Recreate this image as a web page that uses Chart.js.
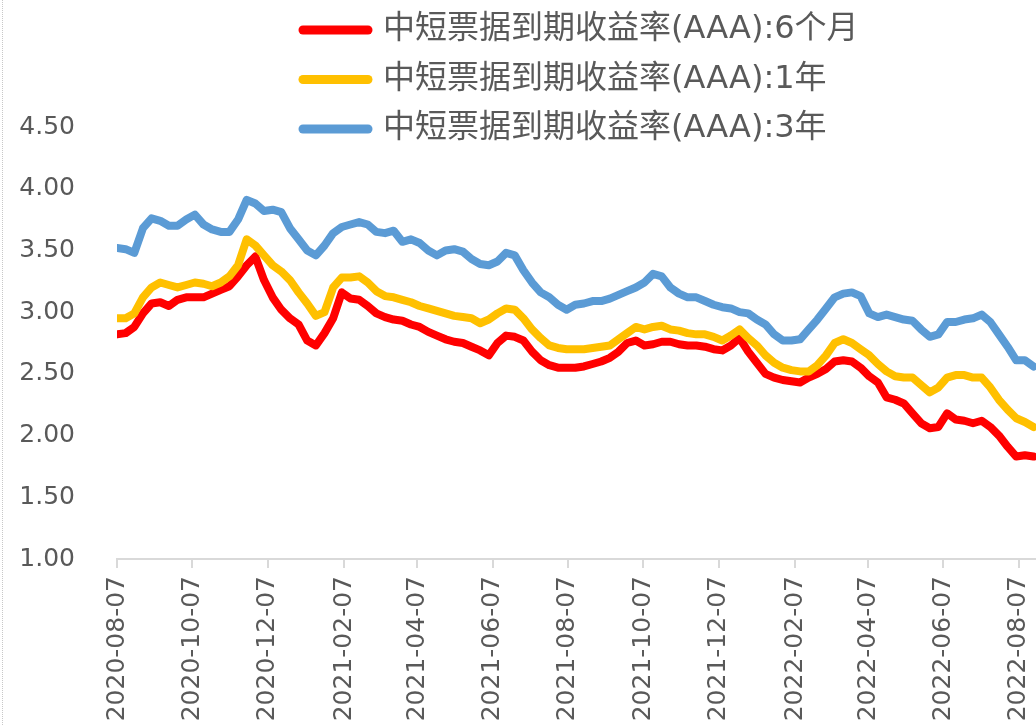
<!DOCTYPE html>
<html>
<head>
<meta charset="utf-8">
<script src="https://cdn.jsdelivr.net/npm/chart.js@4.4.1/dist/chart.umd.min.js"></script>
<style>
  html, body { margin: 0; padding: 0; background: #fff; }
  #wrap { position: relative; width: 1036px; height: 725px; }
  #edge { position: absolute; left: 2px; top: 0; height: 725px; border-left: 1px dotted #c8c8c8; }
</style>
</head>
<body>
<div id="wrap">
  <canvas id="line"></canvas>
  <div id="edge"></div>
</div>
<script>
const START = '2020-08-07';
const END = '2022-08-21';

// weekly observations
const dates = [
  '2020-08-07','2020-08-14','2020-08-21','2020-08-28','2020-09-04','2020-09-11','2020-09-18','2020-09-25',
  '2020-10-02','2020-10-09','2020-10-16','2020-10-23','2020-10-30','2020-11-06','2020-11-13','2020-11-20','2020-11-27',
  '2020-12-04','2020-12-11','2020-12-18','2020-12-25',
  '2021-01-01','2021-01-08','2021-01-15','2021-01-22','2021-01-29','2021-02-05','2021-02-12','2021-02-19','2021-02-26',
  '2021-03-05','2021-03-12','2021-03-19','2021-03-26','2021-04-02','2021-04-09','2021-04-16','2021-04-23','2021-04-30',
  '2021-05-07','2021-05-14','2021-05-21','2021-05-28','2021-06-04','2021-06-11','2021-06-18','2021-06-25',
  '2021-07-02','2021-07-09','2021-07-16','2021-07-23','2021-07-30','2021-08-06','2021-08-13','2021-08-20','2021-08-27',
  '2021-09-03','2021-09-10','2021-09-17','2021-09-24','2021-10-01','2021-10-08','2021-10-15','2021-10-22','2021-10-29',
  '2021-11-05','2021-11-12','2021-11-19','2021-11-26','2021-12-03','2021-12-10','2021-12-17','2021-12-24','2021-12-31',
  '2022-01-07','2022-01-14','2022-01-21','2022-01-28','2022-02-04','2022-02-11','2022-02-18','2022-02-25',
  '2022-03-04','2022-03-11','2022-03-18','2022-03-25','2022-04-01','2022-04-08','2022-04-15','2022-04-22','2022-04-29',
  '2022-05-06','2022-05-13','2022-05-20','2022-05-27','2022-06-03','2022-06-10','2022-06-17','2022-06-24',
  '2022-07-01','2022-07-08','2022-07-15','2022-07-22','2022-07-29','2022-08-05','2022-08-12','2022-08-19'
];

const yield6m = [
  2.82, 2.83, 2.88, 2.99, 3.07, 3.08, 3.05, 3.10, 3.12, 3.12,
  3.12, 3.15, 3.18, 3.21, 3.29, 3.38, 3.45, 3.26, 3.12, 3.02,
  2.95, 2.90, 2.77, 2.73, 2.83, 2.95, 3.16, 3.11, 3.10, 3.05,
  2.99, 2.96, 2.94, 2.93, 2.90, 2.88, 2.84, 2.81, 2.78, 2.76,
  2.75, 2.72, 2.69, 2.65, 2.75, 2.81, 2.80, 2.77, 2.68, 2.61,
  2.57, 2.55, 2.55, 2.55, 2.56, 2.58, 2.60, 2.63, 2.68, 2.75,
  2.77, 2.73, 2.74, 2.76, 2.76, 2.74, 2.73, 2.73, 2.72, 2.70,
  2.69, 2.73, 2.79, 2.68, 2.59, 2.50, 2.47, 2.45, 2.44, 2.43,
  2.47, 2.50, 2.54, 2.60, 2.61, 2.60, 2.55, 2.48, 2.43, 2.31,
  2.29, 2.26, 2.18, 2.10, 2.06, 2.07, 2.18, 2.13, 2.12, 2.10,
  2.12, 2.07, 2.00, 1.91, 1.83, 1.84, 1.83
];

const yield1y = [
  2.95, 2.95, 2.99, 3.12, 3.20, 3.24, 3.22, 3.20, 3.22, 3.24,
  3.23, 3.21, 3.24, 3.29, 3.38, 3.59, 3.54, 3.46, 3.38, 3.33,
  3.26, 3.16, 3.07, 2.97, 3.00, 3.20, 3.28, 3.28, 3.29, 3.24,
  3.17, 3.13, 3.12, 3.10, 3.08, 3.05, 3.03, 3.01, 2.99, 2.97,
  2.96, 2.95, 2.91, 2.94, 2.99, 3.03, 3.02, 2.95, 2.86, 2.79,
  2.73, 2.71, 2.70, 2.70, 2.70, 2.71, 2.72, 2.73, 2.78, 2.83,
  2.88, 2.86, 2.88, 2.89, 2.86, 2.85, 2.83, 2.82, 2.82, 2.80,
  2.77, 2.81, 2.86, 2.79, 2.73, 2.65, 2.59, 2.55, 2.53, 2.52,
  2.52, 2.57, 2.65, 2.75, 2.78, 2.75, 2.70, 2.65, 2.58, 2.52,
  2.48, 2.47, 2.47, 2.41, 2.35, 2.39, 2.47, 2.49, 2.49, 2.47,
  2.47, 2.39, 2.29, 2.21, 2.14, 2.11, 2.07
];

const yield3y = [
  3.52, 3.51, 3.48, 3.68, 3.76, 3.74, 3.70, 3.70, 3.75, 3.79,
  3.71, 3.67, 3.65, 3.65, 3.75, 3.91, 3.88, 3.82, 3.83, 3.81,
  3.68, 3.59, 3.50, 3.46, 3.54, 3.64, 3.69, 3.71, 3.73, 3.71,
  3.65, 3.64, 3.66, 3.57, 3.59, 3.56, 3.50, 3.46, 3.50, 3.51,
  3.49, 3.43, 3.39, 3.38, 3.41, 3.48, 3.46, 3.34, 3.24, 3.16,
  3.12, 3.06, 3.02, 3.06, 3.07, 3.09, 3.09, 3.11, 3.14, 3.17,
  3.20, 3.24, 3.31, 3.29, 3.20, 3.15, 3.12, 3.12, 3.09, 3.06,
  3.04, 3.03, 3.00, 2.99, 2.94, 2.90, 2.82, 2.77, 2.77, 2.78,
  2.86, 2.94, 3.03, 3.12, 3.15, 3.16, 3.13, 2.99, 2.96, 2.98,
  2.96, 2.94, 2.93, 2.86, 2.80, 2.82, 2.92, 2.92, 2.94, 2.95,
  2.98, 2.92, 2.82, 2.72, 2.61, 2.61, 2.56
];

const tickLabels = ['2020-08-07','2020-10-07','2020-12-07','2021-02-07','2021-04-07','2021-06-07',
  '2021-08-07','2021-10-07','2021-12-07','2022-02-07','2022-04-07','2022-06-07','2022-08-07'];

const seriesNames = ['中短票据到期收益率(AAA):6个月', '中短票据到期收益率(AAA):1年', '中短票据到期收益率(AAA):3年'];

const dayOf = d => (Date.parse(d) - Date.parse(START)) / 86400000;
const points = vals => dates.map((d, i) => ({ x: dayOf(d), y: vals[i] }));

const FONT = '"DejaVu Sans", "Noto Sans CJK SC", sans-serif';

// legend stacked one item per row, like the Excel original
const stackedLegend = {
  id: 'stackedLegend',
  afterDraw(chart) {
    const c = chart.ctx;
    c.save();
    chart.data.datasets.forEach((ds, i) => {
      const y = 30 + i * 49.5;
      c.strokeStyle = ds.borderColor;
      c.lineWidth = 9;
      c.lineCap = 'round';
      c.beginPath();
      c.moveTo(303, y);
      c.lineTo(368, y);
      c.stroke();
      c.fillStyle = '#595959';
      c.font = '32px ' + FONT;
      c.textBaseline = 'middle';
      c.fillText(ds.label, 383, y);
    });
    c.restore();
  }
};

const ctx = document.getElementById('line');

const line = new Chart(ctx, {
  type: 'line',
  data: {
    datasets: [
      { label: seriesNames[0], data: points(yield6m), borderColor: '#ff0000', order: 3 },
      { label: seriesNames[1], data: points(yield1y), borderColor: '#ffc000', order: 2 },
      { label: seriesNames[2], data: points(yield3y), borderColor: '#5b9bd5', order: 1 }
    ]
  },
  options: {
    responsive: true,
    maintainAspectRatio: false,
    animation: false,
    layout: { padding: { top: 127, left: 19, right: 0, bottom: 0 } },
    elements: {
      line: { borderWidth: 8, tension: 0, borderJoinStyle: 'round', borderCapStyle: 'round' },
      point: { radius: 0 }
    },
    plugins: {
      legend: { display: false },
      tooltip: { enabled: false }
    },
    scales: {
      x: {
        type: 'linear',
        min: 0,
        max: dayOf(END),
        afterBuildTicks: axis => { axis.ticks = tickLabels.map(t => ({ value: dayOf(t) })); },
        afterFit: axis => { axis.height = 166; axis.paddingLeft = 0; axis.paddingRight = 0; },
        ticks: {
          autoSkip: false,
          maxRotation: 90,
          minRotation: 90,
          padding: 8,
          color: '#595959',
          font: { family: FONT, size: 25 },
          callback: (v, i) => tickLabels[i]
        },
        grid: { drawOnChartArea: false, drawTicks: true, tickLength: 9, color: '#d9d9d9', lineWidth: 2 },
        border: { display: true, color: '#d9d9d9', width: 2 }
      },
      y: {
        min: 1,
        max: 4.5,
        afterFit: axis => { axis.width = 98; },
        ticks: {
          stepSize: 0.5,
          padding: 42,
          color: '#595959',
          font: { family: FONT, size: 25 },
          callback: v => v.toFixed(2)
        },
        grid: { display: false, drawTicks: false },
        border: { display: false }
      }
    }
  },
  plugins: [stackedLegend]
});
</script>
</body>
</html>
